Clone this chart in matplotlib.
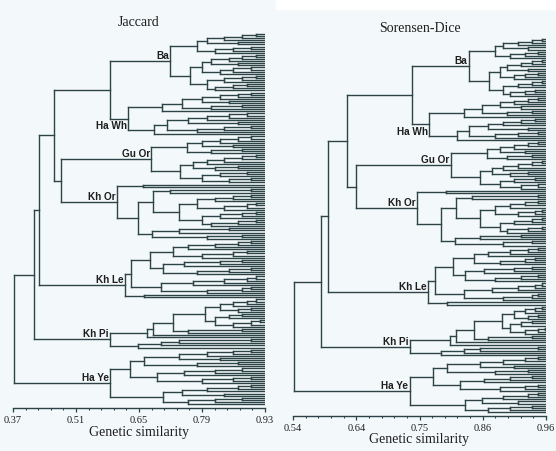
import numpy as np
import matplotlib.pyplot as plt
from matplotlib.collections import LineCollection
from matplotlib.ticker import AutoMinorLocator

# cluster = [similarity, upper, lower]; 0 is a leaf; a tuple is a chain of merges
ba_j = [0.719,
        [0.779, [0.80, (0.84, 0.88, 0.91), (0.87,)], (0.82, 0.86, 0.90)],
        [0.763, [0.79, [0.81, (0.85, 0.88, 0.91), (0.87,)], (0.83, 0.86, 0.90)],
         [0.80, (0.84, 0.88, 0.91), (0.82, 0.86, 0.89)]]]
hawh_j = [0.626,
          [0.701, [0.745, [0.79, (0.83, 0.87, 0.90), (0.85,)], (0.81, 0.88)], 0],
          [0.683, [0.712, [0.76, (0.80, 0.85, 0.89), (0.87,)], (0.78, 0.84, 0.90)], 0]]
guor_j = [0.677,
          [0.757, [0.79, (0.83, 0.87, 0.90), (0.86,)], (0.81, 0.88)],
          [0.741, [0.77, (0.80, 0.84, 0.88, 0.91), (0.82, 0.87)],
           [0.79, (0.83, 0.89), (0.85, 0.90)]]]
khor_j = [0.601,
          [0.659, 0, 0],
          [0.648, [0.68, (0.72, 0.90),
                   [0.74, [0.78, (0.82, 0.86, 0.90), (0.84, 0.89, 0.91)],
                    [0.79, (0.83, 0.88, 0.91), (0.81, 0.87, 0.91)]]],
           [0.679, (0.74, 0.85), (0.80, 0.88)]]]
khle_j = [0.619,
          [0.632, [0.674, [0.726, (0.76, 0.82, 0.87, 0.90), (0.79, 0.86, 0.89)],
                   [0.703, (0.75, 0.83, 0.88), (0.78, 0.85, 0.90)]],
           [0.70, (0.77, 0.84, 0.89, 0.91), (0.80, 0.88, 0.90)]],
          [0.66, 0, 0]]
khpi_j = [0.586,
          [0.668, [0.681, [0.726, [0.797, [0.83, (0.86, 0.89, 0.91), (0.87, 0.90)],
                                   [0.82, (0.85, 0.88), (0.86, 0.90, 0.92)]],
                           (0.76, 0.88)], 0], 0],
          [0.648, (0.70, 0.74, 0.90), 0]]
haye_j = [0.586,
          [0.63, [0.66, [0.74, (0.80, 0.86, 0.90), (0.83,)], (0.78, 0.87)],
           [0.69, (0.75, 0.82, 0.88), (0.79, 0.86, 0.90)]],
          [0.703, [0.745, (0.80, 0.87, 0.90), (0.84,)], (0.76, 0.82, 0.88)]]
# root, Kh Pi join, Kh Le join, upper join, Ba/Ha Wh, Gu Or/Kh Or
backbone_j = [0.372, 0.417, 0.428, 0.461, 0.586, 0.477]

ba_d = [0.832,
        [0.876, [0.889, (0.913, 0.936, 0.953), (0.930,)], (0.901, 0.925, 0.947)],
        [0.866, [0.883, [0.895, (0.919, 0.936, 0.953), (0.930,)], (0.907, 0.925, 0.947)],
         [0.889, (0.913, 0.936, 0.953), (0.901, 0.925, 0.942)]]]
hawh_d = [0.766,
          [0.824, [0.854, [0.883, (0.907, 0.930, 0.947), (0.919,)], (0.895, 0.936)], 0],
          [0.812, [0.832, [0.864, (0.889, 0.919, 0.942), (0.930,)], (0.876, 0.913, 0.947)], 0]]
guor_d = [0.802,
          [0.862, [0.883, (0.907, 0.930, 0.947), (0.925,)], (0.895, 0.936)],
          [0.851, [0.870, (0.889, 0.913, 0.936, 0.953), (0.901, 0.930)],
           [0.883, (0.907, 0.942), (0.919, 0.947)]]]
khor_d = [0.746,
          [0.794, 0, 0],
          [0.786, [0.810, (0.837, 0.947),
                   [0.851, [0.876, (0.901, 0.925, 0.947), (0.913, 0.942, 0.953)],
                    [0.883, (0.907, 0.936, 0.953), (0.895, 0.930, 0.953)]]],
           [0.809, (0.851, 0.919), (0.889, 0.936)]]]
khle_d = [0.764,
          [0.775, [0.805, [0.841, (0.864, 0.901, 0.930, 0.947), (0.883, 0.925, 0.942)],
                   [0.826, (0.857, 0.907, 0.936), (0.876, 0.919, 0.947)]],
           [0.824, (0.870, 0.913, 0.942, 0.953), (0.889, 0.936, 0.947)]],
          [0.795, 0, 0]]
khpi_d = [0.734,
          [0.801, [0.810, [0.841, [0.887, [0.907, (0.925, 0.942, 0.953), (0.930, 0.947)],
                                   [0.901, (0.919, 0.936), (0.925, 0.947, 0.958)]],
                           (0.864, 0.936)], 0], 0],
          [0.786, (0.824, 0.851, 0.947), 0]]
haye_d = [0.734,
          [0.773, [0.795, [0.851, (0.889, 0.925, 0.947), (0.907,)], (0.876, 0.930)],
           [0.817, (0.857, 0.901, 0.936), (0.883, 0.925, 0.947)]],
          [0.826, [0.854, (0.889, 0.930, 0.947), (0.913,)], (0.864, 0.901, 0.936)]]
backbone_d = [0.542, 0.587, 0.598, 0.630, 0.738, 0.645]

group_names = ["Ba", "Ha Wh", "Gu Or", "Kh Or", "Kh Le", "Kh Pi", "Ha Ye"]

ticks_j = ["0.37", "0.51", "0.65", "0.79", "0.93"]
ticks_d = ["0.54", "0.64", "0.75", "0.86", "0.96"]

BG = "#f3f8fa"
LINE = "#2c4347"
W, H = 556, 452


def build(groups, bb):
    ba, hawh, guor, khor, khle, khpi, haye = groups
    r, e, d, b, a, c = bb
    return [r, [e, [d, [b, [a, ba, hawh], [c, guor, khor]], khle], khpi], haye]


def unchain(node):
    if isinstance(node, tuple):
        rest = node[1:]
        return [node[0], unchain(rest) if rest else 0, 0]
    return node


def count(node):
    node = unchain(node)
    if not isinstance(node, list):
        return 1
    return count(node[1]) + count(node[2])


def walk(node, ys, xmax, segs, pos):
    node_u = unchain(node)
    if not isinstance(node_u, list):
        return next(ys), xmax
    h, a, b = node_u
    ya, xa = walk(a, ys, xmax, segs, pos)
    yb, xb = walk(b, ys, xmax, segs, pos)
    segs += [[(h, ya), (h, yb)], [(h, ya), (xa, ya)], [(h, yb), (xb, yb)]]
    y = (ya + yb) / 2
    pos[id(node)] = (y, h)
    return y, h


def panel(x0, x1, y_axis, leaf_top, leaf_bot, xlo, xhi, groups, bb,
          ticklabels, title, title_y, xlab_y):
    ax = fig.add_axes([x0 / W, (H - y_axis) / H, (x1 - x0) / W, (y_axis - 25) / H])
    ax.set_facecolor("none")
    ax.set_xlim(xlo, xhi)
    ax.set_ylim(y_axis, 25)
    tree = build(groups, bb)
    n = count(tree)
    ys = iter(np.linspace(leaf_top, leaf_bot, n))
    segs, pos = [], {}
    walk(tree, ys, xhi, segs, pos)
    ax.add_collection(LineCollection(segs, colors=LINE, linewidths=1.0,
                                     capstyle="projecting"))
    for g, name in zip(groups, group_names):
        y, h = pos[id(g)]
        if name == "Ha Wh":
            ax.text(h - 0.002, y + 1.5, name, ha="right", va="top",
                    fontsize=7.2, fontweight="bold", family="Liberation Sans",
                    color="#1e1e1e")
        else:
            ax.text(h - 0.003, y - 1.0, name, ha="right", va="bottom",
                    fontsize=7.2, fontweight="bold", family="Liberation Sans",
                    color="#1e1e1e")
    for s in ["left", "top", "right"]:
        ax.spines[s].set_visible(False)
    ax.spines["bottom"].set_color(LINE)
    ax.spines["bottom"].set_linewidth(1.0)
    ax.set_yticks([])
    ax.set_xticks(np.linspace(xlo, xhi, 5))
    ax.set_xticklabels(ticklabels, family="Liberation Serif", fontsize=7.5,
                       color="#1e1e1e")
    ax.xaxis.set_minor_locator(AutoMinorLocator(5))
    ax.tick_params(axis="x", which="major", length=3, width=0.9, pad=2, color=LINE)
    ax.tick_params(axis="x", which="minor", length=1.5, width=0.8, color=LINE)
    xc = (x0 + x1) / 2 / W
    fig.text(xc, 1 - title_y / H, title, ha="center", va="center",
             family="Liberation Serif", fontsize=10, color="#1e1e1e")
    fig.text(xc, 1 - xlab_y / H, "Genetic similarity", ha="center", va="center",
             family="Liberation Serif", fontsize=10, color="#1e1e1e")


fig = plt.figure(figsize=(W / 100, H / 100), dpi=100, facecolor=BG)
fig.patches.append(plt.Rectangle((276 / W, 1 - 10 / H), 280 / W, 10 / H,
                                 transform=fig.transFigure, color="white", zorder=0))

panel(13, 265, 409, 35, 405, 0.37, 0.93,
      [ba_j, hawh_j, guor_j, khor_j, khle_j, khpi_j, haye_j], backbone_j,
      ticks_j, "Jaccard", 23, 433)
panel(293, 546, 417, 40, 413, 0.54, 0.96,
      [ba_d, hawh_d, guor_d, khor_d, khle_d, khpi_d, haye_d], backbone_d,
      ticks_d, "Sorensen-Dice", 28, 440)

fig.savefig("out.png", dpi=100, facecolor=BG)
